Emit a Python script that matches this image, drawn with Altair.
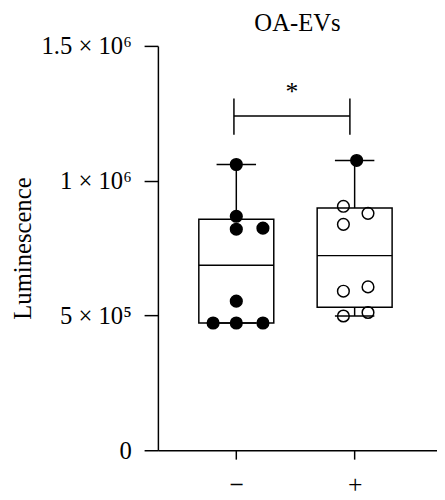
import altair as alt
import pandas as pd
import numpy as np

# ---- data ----
groups = ["−", "+"]
group_pos = [1, 2]

minus_values = [1060000, 868000, 820000, 824000, 553000, 472000, 472000, 472000]
minus_jitter = [0.0, 0.0, 0.0, 0.225, 0.0, -0.196, 0.0, 0.225]
minus_fill = ["filled"] * 8

plus_values = [1075000, 905000, 879000, 838000, 606000, 590000, 511000, 498000]
plus_jitter = [0.017, -0.095, 0.113, -0.095, 0.113, -0.095, 0.113, -0.095]
plus_fill = ["filled", "open", "open", "open", "open", "open", "open", "open"]

y_ticks = [0, 500000, 1000000, 1500000]
y_tick_labels = ["0", "5 × 10⁵", "1 × 10⁶", "1.5 × 10⁶"]
x_tick_labels = ["−", "+"]

title_text = "OA-EVs"
y_title = "Luminescence"

# significance annotation (data units)
sig_x = [0.98, 1.96]
sig_y = 1240000
sig_tick = [1170000, 1305000]
sig_label = "*"

# ---- tables ----
pts = pd.DataFrame({
    "group": [groups[0]] * len(minus_values) + [groups[1]] * len(plus_values),
    "pos": [group_pos[0]] * len(minus_values) + [group_pos[1]] * len(plus_values),
    "jitter": minus_jitter + plus_jitter,
    "value": minus_values + plus_values,
    "fill": minus_fill + plus_fill,
})

rows = []
for g, p, vals in [(groups[0], group_pos[0], minus_values), (groups[1], group_pos[1], plus_values)]:
    v = np.array(vals, dtype=float)
    rows.append({
        "group": g, "pos": p,
        "min": v.min(), "max": v.max(),
        "q1": np.percentile(v, 25, method="weibull"),
        "median": np.percentile(v, 50, method="weibull"),
        "q3": np.percentile(v, 75, method="weibull"),
    })
box_df = pd.DataFrame(rows)

br_df = pd.DataFrame({"x1": [sig_x[0]], "x2": [sig_x[1]], "y": [sig_y],
                      "ylo": [sig_tick[0]], "yhi": [sig_tick[1]],
                      "xm": [(sig_x[0] + sig_x[1]) / 2], "yt": [sig_tick[1]],
                      "label": [sig_label]})

# ---- scales & axes ----
FONT = "Liberation Serif"
xscale = alt.Scale(domain=[0.3375, 2.696], nice=False, zero=False)
yscale = alt.Scale(domain=[0, 1500000], nice=False, zero=True)

def ternary(vals, labels):
    expr = "''"
    for v, l in zip(vals, labels):
        expr = f"datum.value == {v} ? '{l}' : ({expr})"
    return expr

xaxis = alt.Axis(values=group_pos, labelExpr=ternary(group_pos, x_tick_labels),
                 title=None, grid=False, tickSize=9, labelPadding=13,
                 labelFont=FONT, labelFontSize=26, labelColor="black",
                 domainColor="black", tickColor="black", domainWidth=1.5, tickWidth=1.5)
yaxis = alt.Axis(values=y_ticks, labelExpr=ternary(y_ticks, y_tick_labels),
                 title=y_title, grid=False, tickSize=14, labelPadding=13,
                 labelFont=FONT, labelFontSize=25, labelColor="black",
                 titleFont=FONT, titleFontSize=25, titleFontWeight="normal",
                 titleColor="black", titleX=-129.5, titleY=205, titleAngle=270,
                 titleAlign="center", titleBaseline="alphabetic",
                 domainColor="black", tickColor="black", domainWidth=1.5, tickWidth=1.5)

def X(f):
    return alt.X(f, type="quantitative", scale=xscale, axis=xaxis)

def Y(f):
    return alt.Y(f, type="quantitative", scale=yscale, axis=yaxis)

LW = 1.5
box_half = 0.3167
cap_half = 0.1667

base_box = alt.Chart(box_df).transform_calculate(
    blo=f"datum.pos - {box_half}", bhi=f"datum.pos + {box_half}",
    clo=f"datum.pos - {cap_half}", chi=f"datum.pos + {cap_half}")

box = base_box.mark_rect(fill="transparent", stroke="black", strokeWidth=LW).encode(
    x=X("blo"), x2="bhi", y=Y("q1"), y2="q3")
median = base_box.mark_rule(color="black", strokeWidth=LW).encode(
    x=X("blo"), x2="bhi", y=Y("median"))
wh_top = base_box.mark_rule(color="black", strokeWidth=LW).encode(
    x=X("pos"), y=Y("q3"), y2="max")
wh_bot = base_box.mark_rule(color="black", strokeWidth=LW).encode(
    x=X("pos"), y=Y("min"), y2="q1")
cap_top = base_box.mark_rule(color="black", strokeWidth=LW).encode(
    x=X("clo"), x2="chi", y=Y("max"))
cap_bot = base_box.mark_rule(color="black", strokeWidth=LW).encode(
    x=X("clo"), x2="chi", y=Y("min"))

points = alt.Chart(pts).transform_calculate(px="datum.pos + datum.jitter").mark_point(
    shape="circle", size=140, strokeWidth=LW, stroke="black", opacity=1).encode(
    x=X("px"), y=Y("value"),
    fill=alt.Fill("fill:N", scale=alt.Scale(domain=["filled", "open"],
                                            range=["black", "transparent"]), legend=None))

br_h = alt.Chart(br_df).mark_rule(color="black", strokeWidth=LW).encode(
    x=X("x1"), x2="x2", y=Y("y"))
br_l = alt.Chart(br_df).mark_rule(color="black", strokeWidth=LW).encode(
    x=X("x1"), y=Y("ylo"), y2="yhi")
br_r = alt.Chart(br_df).mark_rule(color="black", strokeWidth=LW).encode(
    x=X("x2"), y=Y("ylo"), y2="yhi")
star = alt.Chart(br_df).mark_text(font=FONT, fontSize=26, color="black",
                                  baseline="alphabetic", dy=2).encode(
    x=X("xm"), y=Y("yt"), text="label:N")

chart = alt.layer(box, median, wh_top, wh_bot, cap_top, cap_bot, points,
                  br_h, br_l, br_r, star).properties(
    width=283, height=410,
    autosize=alt.AutoSizeParams(type="none"),
    padding={"left": 152, "top": 35, "right": 0, "bottom": 47},
    title=alt.TitleParams(title_text, font=FONT, fontSize=25, fontWeight="normal",
                          color="black", anchor="middle", frame="group",
                          offset=-2),
).configure_view(stroke=None)

chart.save("out.html", embed_options={"renderer": "svg", "actions": False})
